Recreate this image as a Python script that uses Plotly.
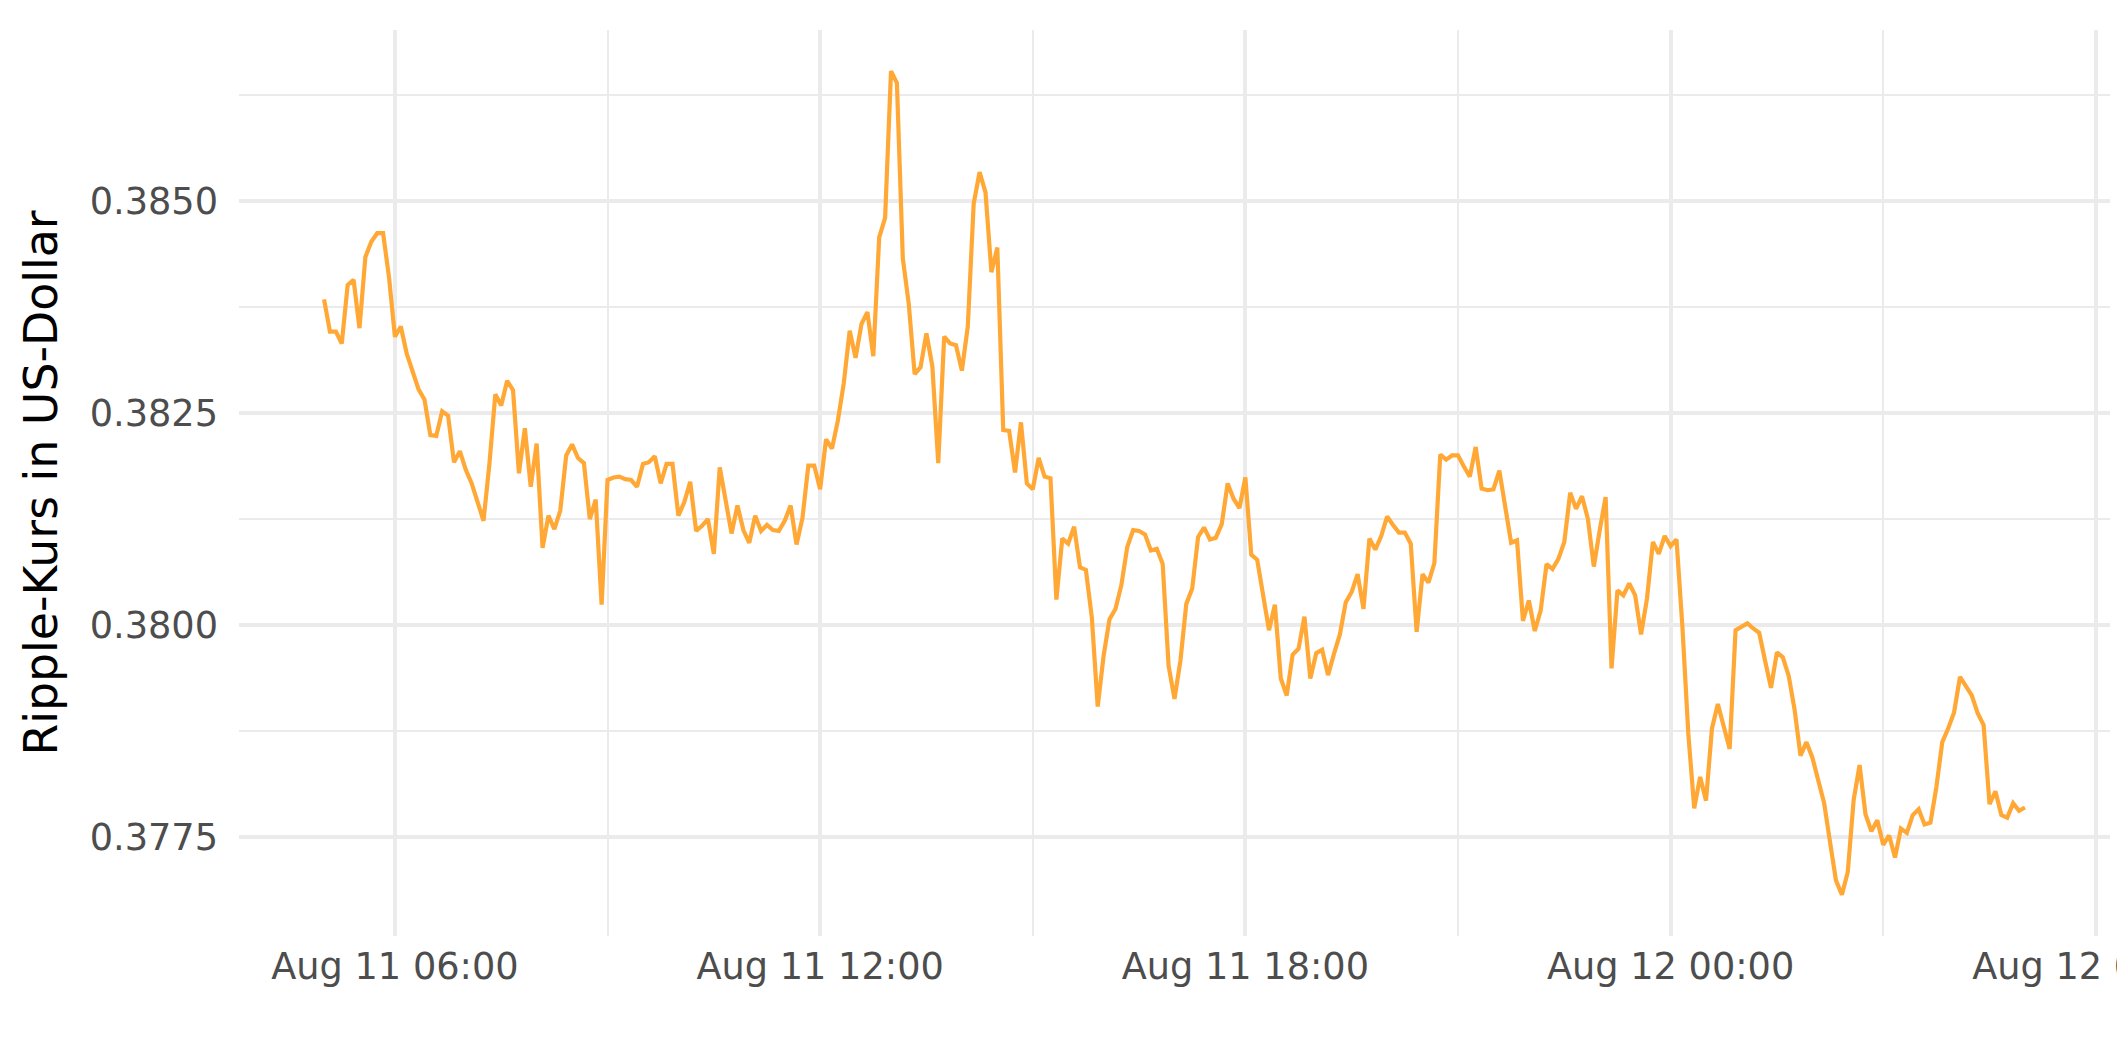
import pandas as pd
import plotly.graph_objects as go

# ---------------- data (5-minute XRP/USD quotes) ----------------
start_time = "2022-08-11 05:00"
interval = "5min"

# Aug 11 05:00 - 10:55
prices_morning = [
    0.38384, 0.38346, 0.38346, 0.38332, 0.38401, 0.38407, 0.38350, 0.38434, 0.38452, 0.38462, 0.38462, 0.38410,
    0.38340, 0.38352, 0.38320, 0.38300, 0.38278, 0.38266, 0.38224, 0.38223, 0.38252, 0.38247, 0.38192, 0.38205,
    0.38183, 0.38167, 0.38144, 0.38123, 0.38190, 0.38272, 0.38259, 0.38288, 0.38277, 0.38179, 0.38232, 0.38163,
    0.38214, 0.38091, 0.38129, 0.38113, 0.38135, 0.38200, 0.38213, 0.38197, 0.38191, 0.38125, 0.38148, 0.38024,
    0.38171, 0.38174, 0.38175, 0.38172, 0.38171, 0.38163, 0.38190, 0.38192, 0.38199, 0.38167, 0.38190, 0.38190,
    0.38129, 0.38145, 0.38169, 0.38111, 0.38117, 0.38125, 0.38084, 0.38186, 0.38147, 0.38108, 0.38141, 0.38112,
]
# Aug 11 11:00 - 16:55
prices_afternoon = [
    0.38097, 0.38129, 0.38111, 0.38118, 0.38112, 0.38111, 0.38123, 0.38141, 0.38095, 0.38126, 0.38188, 0.38188,
    0.38160, 0.38219, 0.38208, 0.38241, 0.38285, 0.38347, 0.38315, 0.38355, 0.38369, 0.38317, 0.38457, 0.38480,
    0.38653, 0.38639, 0.38432, 0.38379, 0.38296, 0.38304, 0.38344, 0.38305, 0.38191, 0.38340, 0.38332, 0.38330,
    0.38300, 0.38352, 0.38497, 0.38534, 0.38510, 0.38416, 0.38445, 0.38230, 0.38229, 0.38180, 0.38239, 0.38167,
    0.38160, 0.38197, 0.38175, 0.38173, 0.38030, 0.38102, 0.38096, 0.38116, 0.38068, 0.38065, 0.38009, 0.37904,
    0.37964, 0.38007, 0.38019, 0.38047, 0.38092, 0.38112, 0.38111, 0.38107, 0.38088, 0.38090, 0.38072, 0.37952,
]
# Aug 11 17:00 - 22:55
prices_evening = [
    0.37913, 0.37958, 0.38025, 0.38043, 0.38104, 0.38115, 0.38101, 0.38103, 0.38119, 0.38167, 0.38149, 0.38138,
    0.38174, 0.38083, 0.38077, 0.38033, 0.37994, 0.38024, 0.37937, 0.37917, 0.37965, 0.37972, 0.38010, 0.37937,
    0.37967, 0.37971, 0.37941, 0.37966, 0.37989, 0.38027, 0.38039, 0.38060, 0.38019, 0.38102, 0.38089, 0.38105,
    0.38128, 0.38118, 0.38109, 0.38109, 0.38096, 0.37992, 0.38060, 0.38050, 0.38073, 0.38201, 0.38195, 0.38200,
    0.38200, 0.38187, 0.38175, 0.38210, 0.38161, 0.38159, 0.38160, 0.38182, 0.38137, 0.38097, 0.38100, 0.38005,
    0.38029, 0.37993, 0.38017, 0.38072, 0.38066, 0.38078, 0.38098, 0.38156, 0.38137, 0.38152, 0.38125, 0.38069,
]
# Aug 11 23:00 - Aug 12 05:00
prices_night = [
    0.38112, 0.38151, 0.37949, 0.38041, 0.38035, 0.38049, 0.38035, 0.37989, 0.38031, 0.38098, 0.38084, 0.38105,
    0.38093, 0.38101, 0.37998, 0.37872, 0.37784, 0.37821, 0.37793, 0.37878, 0.37907, 0.37878, 0.37854, 0.37994,
    0.37998, 0.38002, 0.37996, 0.37991, 0.37958, 0.37926, 0.37968, 0.37962, 0.37940, 0.37900, 0.37846, 0.37862,
    0.37844, 0.37817, 0.37790, 0.37744, 0.37699, 0.37682, 0.37709, 0.37794, 0.37835, 0.37777, 0.37757, 0.37770,
    0.37741, 0.37752, 0.37726, 0.37760, 0.37755, 0.37776, 0.37783, 0.37765, 0.37767, 0.37809, 0.37862, 0.37878,
    0.37897, 0.37939, 0.37928, 0.37917, 0.37896, 0.37882, 0.37789, 0.37804, 0.37776, 0.37773, 0.37790, 0.37781,
    0.37785,
]

x_tick_values = ["2022-08-11 06:00", "2022-08-11 12:00", "2022-08-11 18:00", "2022-08-12 00:00", "2022-08-12 06:00"]
x_tick_labels = ["Aug 11 06:00", "Aug 11 12:00", "Aug 11 18:00", "Aug 12 00:00", "Aug 12 06:00"]
x_minor_values = ["2022-08-11 09:00", "2022-08-11 15:00", "2022-08-11 21:00", "2022-08-12 03:00"]
y_tick_values = [0.3775, 0.3800, 0.3825, 0.3850]
y_tick_labels = ["0.3775", "0.3800", "0.3825", "0.3850"]
y_minor_values = [0.37875, 0.38125, 0.38375, 0.38625]

# ---------------- build ----------------
prices = prices_morning + prices_afternoon + prices_evening + prices_night
times = pd.date_range(start=start_time, periods=len(prices), freq=interval)

span_t = times[-1] - times[0]
x_range = [times[0] - 0.05 * span_t, times[-1] + 0.05 * span_t]
pmin, pmax = min(prices), max(prices)
span_p = pmax - pmin
y_range = [pmin - 0.05 * span_p, pmax + 0.05 * span_p]

GRID = "#EBEBEB"
TICK_FONT = dict(family="DejaVu Sans", size=36.7, color="#4D4D4D")

fig = go.Figure()
fig.add_trace(go.Scatter(
    x=times, y=prices, mode="lines",
    line=dict(color="#FFA836", width=4.2),
    hoverinfo="x+y",
))

fig.update_layout(
    width=2125, height=1062,
    margin=dict(l=231, r=23, t=22, b=134, autoexpand=False),
    paper_bgcolor="white", plot_bgcolor="white",
    showlegend=False,
    font=dict(family="DejaVu Sans"),
    xaxis=dict(
        range=x_range, automargin=False,
        tickmode="array", tickvals=x_tick_values, ticktext=x_tick_labels,
        showgrid=True, gridcolor=GRID, gridwidth=4,
        minor=dict(tickvals=x_minor_values, showgrid=True, gridcolor=GRID, gridwidth=2, ticks=""),
        zeroline=False, showline=False, ticks="",
        tickfont=TICK_FONT, ticklabeloverflow="allow",
        ticklabelstandoff=5,
    ),
    yaxis=dict(
        range=y_range, automargin=False,
        tickmode="array", tickvals=y_tick_values, ticktext=y_tick_labels,
        showgrid=True, gridcolor=GRID, gridwidth=4,
        minor=dict(tickvals=y_minor_values, showgrid=True, gridcolor=GRID, gridwidth=2, ticks=""),
        zeroline=False, showline=False, ticks="",
        tickfont=TICK_FONT,
        ticklabelstandoff=20,
        title=dict(text="Ripple-Kurs in US-Dollar",
                   font=dict(family="DejaVu Sans", size=45.8, color="black"),
                   standoff=17),
    ),
)

fig.write_html("out.html")
